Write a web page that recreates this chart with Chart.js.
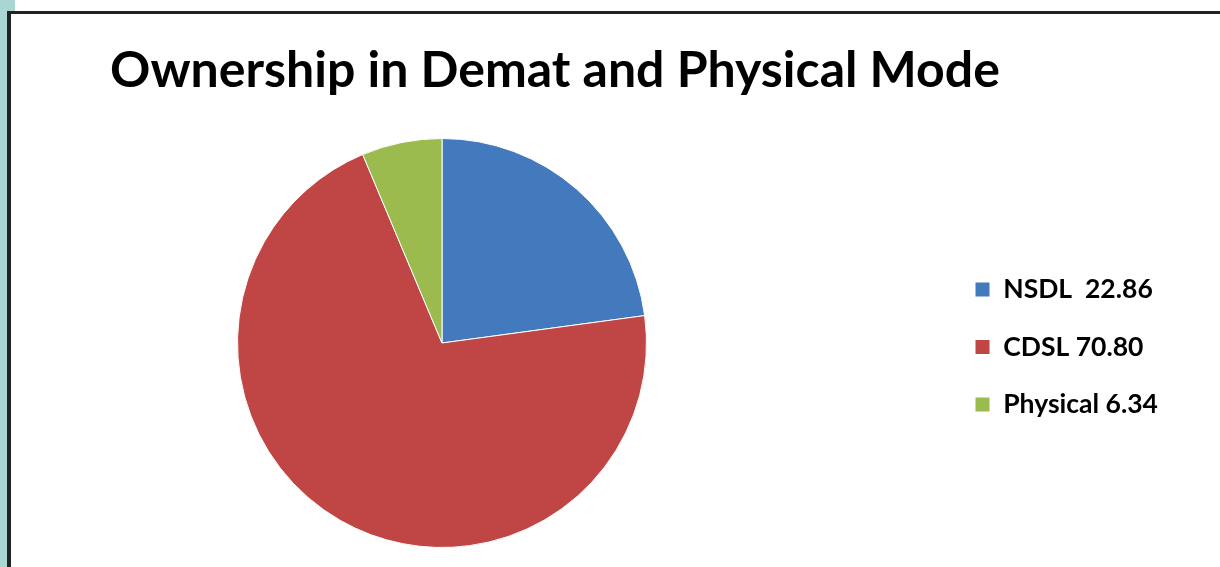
<!DOCTYPE html>
<html>
<head>
<meta charset="utf-8">
<script src="https://cdn.jsdelivr.net/npm/chart.js@4.4.1/dist/chart.umd.min.js"></script>
<style>
  body { margin: 0; background: #fff; width: 1220px; height: 567px; overflow: hidden; position: relative; }
  #teal { position: absolute; left: 0; top: 0; width: 8px; height: 567px; background: #a9d6d2; }
  #tealTop { position: absolute; left: 0; top: 0; width: 15px; height: 12px; background: #a9d6d2; }
  #frame { position: absolute; left: 7px; top: 11px; right: 0; bottom: 0; border-top: 3px solid #222; border-left: 4px solid #222; background: #fff; }
  #wrap { position: absolute; left: 0; top: 0; width: 1220px; height: 567px; }
</style>
</head>
<body>
<div id="teal"></div>
<div id="tealTop"></div>
<div id="frame"></div>
<div id="wrap"><canvas id="myPieChart"></canvas></div>
<script>
var labels = ['NSDL  22.86', 'CDSL 70.80', 'Physical 6.34'];
var values = [22.86, 70.80, 6.34];
var colors = ['#4379bd', '#bf4644', '#9bbb4f'];

// place the pie and the legend where they sit in the picture
var placeBoxes = {
    id: 'placeBoxes',
    afterLayout: function (chart) {
        var a = chart.chartArea;
        a.left = 237; a.right = 647; a.top = 138; a.bottom = 548;
        a.width = 410; a.height = 410;
        var lg = chart.legend;
        var w = lg.width, h = lg.height;
        lg.left = 944; lg.right = 944 + w;
        lg.top = 347 - h / 2; lg.bottom = lg.top + h;
    }
};

var ctx = document.getElementById('myPieChart');
var myChart = new Chart(ctx, {
    type: 'pie',
    data: {
        labels: labels,
        datasets: [{
            data: values,
            backgroundColor: colors,
            borderColor: '#ffffff',
            borderWidth: 1
        }]
    },
    options: {
        responsive: true,
        maintainAspectRatio: false,
        animation: false,
        layout: { padding: { left: 110, top: 41 } },
        plugins: {
            title: {
                display: true,
                text: 'Ownership in Demat and Physical Mode',
                align: 'start',
                color: '#000',
                font: { family: 'Lato', size: 50, weight: 'bold' },
                padding: 0
            },
            legend: {
                position: 'right',
                labels: {
                    color: '#000',
                    font: { family: 'Lato', size: 26.5, weight: 'bold' },
                    boxWidth: 15,
                    boxHeight: 15,
                    padding: 31
                }
            },
            tooltip: { enabled: false }
        }
    },
    plugins: [placeBoxes]
});
</script>
</body>
</html>
